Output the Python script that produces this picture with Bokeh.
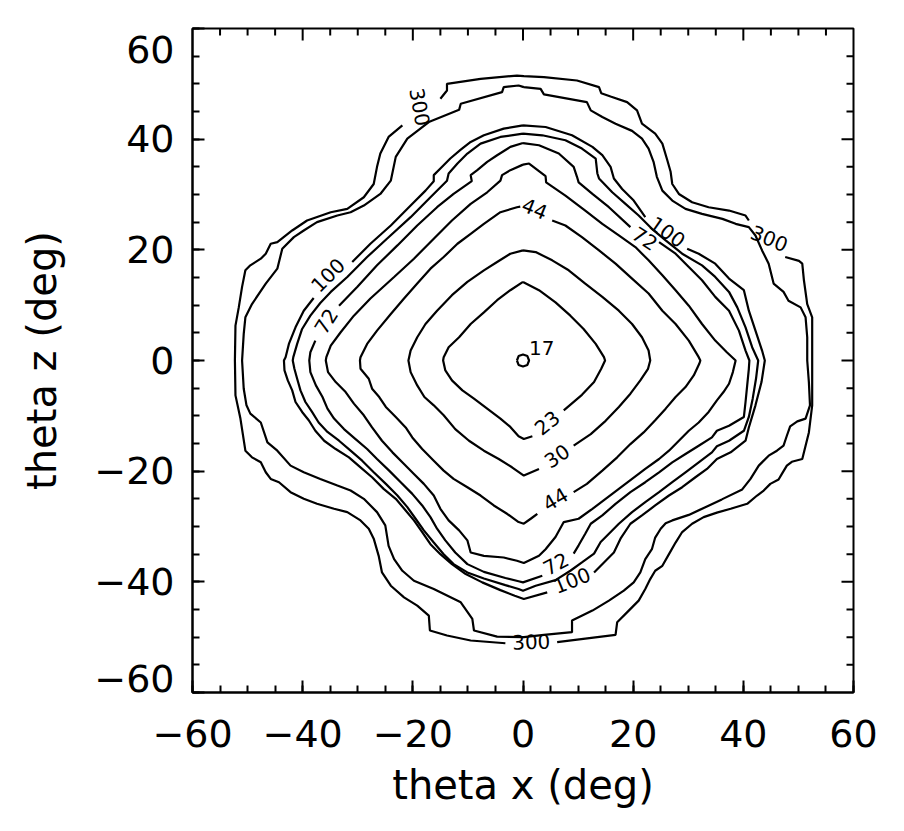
import numpy as np
from bokeh.plotting import figure
from bokeh.models import Range1d, FixedTicker, ColumnDataSource
from bokeh.core.properties import value
from bokeh.embed import file_html
from bokeh.resources import INLINE

# Contour levels (unlabelled levels are estimates)
levels = [17, 23, 30, 44, 58, 72, 86, 100, 200, 300]

# Contour paths: (theta_x, theta_z) in deg; None = gap for a label
c17 = [(-1.1, 0), (-0.8, 0.8), (0, 1.1), (0.8, 0.8), (1.1, 0), (0.8, -0.8), (0, -1.1), (-0.8, -0.8), (-1.1, 0)]

c23 = [(0, 14.2), (-2.3, 12.7), (-4.7, 10.9), (-7.1, 8.7), (-9.5, 6.6), (-11.6, 4.2), (-13.5, 2.4), (-14.4, 0.6), (-14.5, 0),
       (-14.1, -1.8), (-12.9, -3.6), (-11.0, -5.4), (-8.9, -6.9), (-6.5, -8.7), (-4.1, -10.5), (-2.3, -12.0), (-0.8, -13.7),
       (0.15, -14.2), (1.7, -13.7), None,
       (7.4, -9.0), (10.7, -6.2), (12.9, -3.9), (14.2, -1.5), (14.9, 0),
       (14.7, 0.6), (13.2, 3.0), (11.0, 5.7), (8.6, 8.1), (5.9, 10.5), (2.9, 12.7), (0, 14.2)]

c30 = [(0, 19.9), (-2.3, 19.3), (-4.7, 17.8), (-7.1, 16.3), (-10.1, 14.2), (-12.9, 11.8), (-15.6, 9.0), (-17.7, 6.6),
       (-19.2, 4.2), (-20.4, 1.8), (-20.8, 0),
       (-20.4, -2.1), (-19.2, -4.5), (-17.9, -6.6), (-16.2, -8.1), (-14.4, -9.9), (-12.3, -12.4), (-9.8, -14.5),
       (-7.1, -16.3), (-4.4, -17.8), (-2.0, -19.3), (0.15, -20.8), (2.9, -19.6), None,
       (9.2, -15.4), (12.3, -13.3), (15.0, -10.9), (17.4, -8.4), (19.5, -6.0), (21.3, -3.6), (22.7, -1.5), (23.1, 0),
       (22.8, 1.8), (21.6, 4.2), (19.8, 6.6), (17.4, 9.0), (14.4, 11.5), (11.3, 13.9), (8.3, 16.3), (5.3, 18.1),
       (2.3, 19.6), (0, 19.9)]

c44 = [(-0.5, 27.8), (-1.1, 27.7), (-4.1, 26.8), (-7.1, 24.7), (-9.5, 22.9), (-11.9, 21.1), (-14.4, 18.7), (-16.8, 16.6),
       (-19.2, 13.9), (-21.6, 11.2), (-24.0, 8.4), (-26.5, 5.4), (-28.3, 3.0), (-29.5, 0.6), (-29.6, 0),
       (-29.5, -1.5), (-28.0, -3.3), (-27.4, -5.1), (-26.1, -6.6), (-24.9, -8.4), (-23.1, -10.2), (-21.3, -12.1),
       (-20.1, -13.9), (-18.3, -16.0), (-16.2, -18.1), (-14.4, -19.9), (-12.6, -21.4), (-10.1, -22.9), (-7.7, -24.4),
       (-5.3, -26.2), (-2.9, -27.7), (-0.8, -29.2), (0.15, -29.5), (1.4, -28.6), (2.6, -27.7), None,
       (9.2, -23.8), (11.6, -22.3), (14.4, -19.9), (17.1, -17.5), (19.5, -15.1), (21.9, -13.0), (24.0, -10.8),
       (25.9, -8.7), (27.7, -6.6), (29.5, -4.8), (31.0, -2.7), (32.0, -0.6), (32.2, 0),
       (31.9, 0.6), (30.1, 3.6), (27.7, 6.6), (25.3, 9.0), (22.8, 12.1), (19.8, 14.8), (16.8, 17.5), (13.8, 19.9),
       (10.7, 22.3), (7.7, 24.4), (5.3, 25.3)]

c58 = [(0, 35.4), (-2.3, 34.4), (-3.8, 33.5), (-4.1, 32.5), (-6.5, 30.4), (-9.5, 28.3), (-12.9, 25.3), (-16.2, 22.0),
       (-19.8, 18.4), (-23.4, 15.1), (-27.7, 11.2), (-30.7, 8.1), (-33.1, 5.1), (-34.9, 2.7), (-35.7, 0.6), (-35.8, 0),
       (-35.4, -2.1), (-34.0, -3.9), (-32.2, -5.7), (-30.7, -7.8), (-28.9, -9.9), (-27.4, -12.1), (-25.6, -14.5),
       (-23.7, -16.6), (-21.6, -18.7), (-19.8, -20.5), (-18.0, -22.3), (-16.2, -24.4), (-15.0, -26.8), (-13.5, -28.9),
       (-11.6, -30.7), (-10.1, -32.5), (-9.5, -34.7), (-7.1, -35.3), (-3.5, -35.6), (-1.1, -36.2), (0.15, -36.6),
       (2.9, -35.3), (4.1, -34.1), (5.9, -31.9), (7.4, -29.2), (10.1, -28.6), (12.6, -26.8), (15.0, -25.0),
       (17.4, -23.2), (19.8, -21.4), (22.2, -19.6), (24.7, -17.8), (26.5, -16.3), (28.3, -14.5), (30.1, -12.7),
       (31.9, -11.2), (33.7, -9.3), (35.2, -7.2), (36.4, -5.7), (37.4, -4.2), (38.1, -2.1), (38.6, 0),
       (37.0, 1.5), (34.9, 3.6), (32.5, 6.6), (30.1, 9.9), (27.7, 12.7), (25.3, 15.4), (22.8, 18.1), (20.4, 20.5),
       (17.4, 22.6), (14.4, 24.7), (11.3, 27.1), (7.7, 29.8), (4.2, 32.2), (4.1, 33.3), (1.1, 35.6), (0, 35.4)]

c72 = [(0, 39.3), (-2.3, 38.6), (-4.7, 37.1), (-6.5, 35.9), (-8.3, 34.4), (-9.5, 33.5), (-9.3, 32.4), (-12.6, 30.1),
       (-15.6, 27.7), (-19.2, 24.4), (-22.8, 20.8), (-26.5, 17.2), (-30.1, 13.3), (-33.4, 9.9), None,
       (-37.7, 3.6), (-38.6, 1.5), (-38.8, 0),
       (-38.6, -2.1), (-37.6, -4.5), (-36.4, -6.6), (-35.5, -8.7), (-34.3, -10.5), (-32.5, -12.4), (-30.4, -14.2),
       (-28.3, -16.0), (-26.5, -17.8), (-24.3, -19.9), (-22.2, -22.0), (-20.1, -24.1), (-18.3, -26.2), (-16.8, -28.3),
       (-15.6, -30.4), (-14.1, -32.5), (-12.3, -34.7), (-10.1, -36.8), (-7.1, -38.2), (-3.2, -39.3), (-0.8, -39.9),
       (0, -40.1), (3.5, -38.9), None,
       (9.2, -34.9), (10.1, -33.4), (11.3, -31.3), (12.3, -29.5), (14.4, -28.0), (16.8, -25.9), (19.5, -23.8),
       (22.2, -22.0), (24.7, -20.2), (27.1, -18.4), (29.5, -16.9), (31.9, -15.4), (34.3, -13.9), (35.2, -12.7),
       (37.4, -11.8), (40.1, -10.2), (40.4, -7.5), (40.7, -4.5), (41.0, -1.5), (41.1, 0),
       (40.4, 1.8), (39.2, 5.4), (37.4, 9.0), (34.9, 11.5), (32.5, 14.5), (30.1, 16.9), (27.7, 19.3), (24.7, 21.4), None,
       (19.5, 24.1), (15.6, 27.7), (12.6, 30.1), (10.1, 32.2), (9.8, 33.2), (9.2, 35.0), (6.5, 37.4), (2.9, 38.9),
       (0, 39.3)]

c86 = [(0, 41.0), (-4.1, 40.4), (-7.7, 39.2), (-10.1, 37.4), (-11.9, 35.6), (-13.5, 33.8), (-13.8, 32.5), (-16.8, 29.5),
       (-20.4, 25.9), (-24.7, 22.0), (-28.3, 18.7), (-31.9, 15.1), (-34.9, 12.4), (-36.8, 10.4), (-38.6, 8.1),
       (-40.1, 5.7), (-41.0, 3.0), (-41.7, 0.6), (-41.8, 0),
       (-41.5, -1.5), (-41.0, -3.3), (-40.4, -5.4), (-39.5, -7.5), (-38.3, -9.3), (-37.1, -11.2), (-35.5, -12.9),
       (-33.4, -14.5), (-31.3, -16.3), (-29.2, -18.1), (-27.1, -20.2), (-24.9, -22.3), (-22.8, -24.4), (-21.0, -26.5),
       (-19.5, -28.6), (-18.0, -30.7), (-16.2, -32.9), (-14.4, -35.0), (-12.6, -36.8), (-10.1, -38.3), (-7.1, -39.4),
       (-3.2, -40.6), (-0.8, -41.3), (0, -41.6),
       (2.3, -40.7), (5.9, -39.7), (8.6, -38.0), (10.7, -36.5), (12.9, -34.9), (14.1, -32.8), (15.6, -31.3),
       (17.4, -29.5), (19.8, -27.4), (22.2, -25.6), (24.7, -23.8), (27.1, -22.0), (29.5, -20.2), (31.9, -18.4),
       (34.3, -16.6), (35.2, -15.5), (37.4, -14.5), (40.1, -12.7), (41.0, -10.2), (41.7, -6.9), (42.3, -3.3), (42.7, 0),
       (41.6, 2.4), (40.4, 6.0), (38.9, 9.6), (37.4, 12.4), (34.9, 15.1), (32.5, 17.2), (28.9, 19.3), (25.9, 21.7),
       (23.4, 23.8), (21.0, 26.2), (18.6, 28.3), (16.2, 30.4), (13.8, 32.9), (13.5, 33.8), (13.2, 36.5), (10.7, 38.3),
       (7.7, 39.8), (3.5, 40.7), (0, 41.0)]

c100 = [(0, 42.5), (-3.5, 41.9), (-7.1, 40.7), (-9.5, 39.5), (-11.3, 38.1), (-13.2, 36.5), (-15.0, 34.7), (-16.2, 33.5),
        (-16.2, 32.4), (-17.7, 30.7), (-20.4, 28.0), (-24.0, 24.4), (-27.7, 21.1), (-31.0, 17.8), None,
        (-38.0, 11.3), (-39.8, 9.0), (-41.3, 6.0), (-42.5, 3.0), (-43.1, 0.6), (-43.4, 0),
        (-43.3, -1.8), (-42.7, -3.6), (-41.9, -5.4), (-41.3, -7.5), (-40.1, -9.3), (-38.9, -10.8), (-37.7, -12.7),
        (-36.1, -14.5), (-34.0, -16.0), (-31.6, -17.5), (-29.5, -19.3), (-27.4, -21.1), (-25.3, -23.2), (-23.1, -25.0),
        (-21.3, -27.1), (-19.8, -28.9), (-18.3, -31.0), (-16.8, -33.2), (-15.0, -35.0), (-12.9, -36.8), (-10.4, -38.6),
        (-7.4, -40.1), (-4.1, -41.5), (-1.5, -42.5), (0.15, -43.1), (4.4, -41.9), None,
        (12.9, -38.3), (14.7, -36.5), (16.5, -34.7), (17.7, -32.2), (19.5, -29.5), (21.6, -28.0), (24.0, -26.2),
        (26.5, -24.4), (28.9, -22.9), (31.3, -21.1), (33.4, -19.6), (35.2, -17.8), (37.7, -16.6), (40.4, -14.5),
        (41.0, -12.1), (42.2, -8.1), (43.3, -3.9), (43.9, 0),
        (43.4, 1.8), (42.2, 5.4), (41.0, 9.0), (40.1, 12.7), (37.4, 14.8), (34.9, 17.5), (31.9, 19.3), (29.8, 20.2), None,
        (22.2, 25.9), (20.1, 28.9), (18.0, 31.0), (16.5, 32.9), (15.9, 35.0), (14.4, 37.1), (12.6, 38.6), (8.9, 40.7),
        (4.1, 42.2), (0, 42.5)]

c200 = [(0.15, 49.4), (-0.8, 49.7), (-3.5, 49.4), (-3.8, 48.5), (-11.3, 46.4), (-11.6, 45.3), (-17.1, 43.1), (-21.0, 40.1),
        (-23.1, 36.8), (-24.0, 32.5), (-25.9, 30.1), (-28.9, 28.0), (-31.3, 26.8), (-33.7, 26.2), (-37.4, 25.0),
        (-39.8, 23.5), (-41.6, 22.3), (-43.7, 20.2), (-44.6, 16.6), (-46.7, 13.9), (-49.2, 10.2), (-50.4, 7.8),
        (-50.7, 4.8), (-51.0, 0),
        (-50.7, -5.1), (-50.2, -8.1), (-49.5, -9.6), (-47.6, -11.2), (-46.4, -14.8), (-44.6, -16.3), (-42.2, -19.0),
        (-39.8, -20.2), (-36.8, -21.4), (-33.7, -22.6), (-31.3, -23.5), (-28.9, -25.0), (-26.5, -27.4), (-25.0, -29.8),
        (-24.4, -33.5), (-23.4, -35.9), (-21.9, -38.0), (-19.8, -39.8), (-16.2, -41.3), (-11.3, -43.7), (-9.2, -46.7),
        (-8.9, -48.8), (-4.7, -49.9), (0.15, -50.0),
        (3.8, -49.6), (8.9, -49.1), (8.9, -47.0), (12.6, -45.2), (15.6, -43.4), (18.3, -41.6), (20.1, -40.1),
        (21.3, -38.3), (22.2, -35.9), (23.4, -34.1), (24.0, -32.0), (25.0, -30.4), (25.9, -29.4), (27.1, -28.9),
        (30.1, -27.9), (33.1, -26.5), (36.1, -25.1), (39.8, -23.3), (41.3, -21.4), (42.8, -19.0), (44.6, -17.2),
        (46.1, -16.3), (47.3, -15.4), (47.9, -13.6), (48.5, -11.9), (49.8, -11.0), (51.3, -10.5), (52.1, -8.1),
        (51.9, -3.9), (51.6, 0),
        (51.6, 4.2), (51.3, 7.8), (50.4, 9.6), (48.2, 10.8), (47.3, 12.4), (45.5, 13.9), (44.6, 17.5), (43.4, 19.9),
        (42.2, 22.6), (41.0, 24.1), (38.6, 24.7), (36.2, 25.6), (32.5, 26.5), (29.5, 27.4), (27.1, 28.9), (25.3, 30.7),
        (24.3, 33.2), (23.7, 35.9), (22.8, 38.3), (21.6, 40.1), (19.8, 41.5), (16.8, 42.8), (14.4, 44.0), (12.3, 45.2),
        (11.6, 46.7), (3.8, 48.1), (3.2, 49.1), (0.15, 49.4)]

c300 = [(0.15, 51.4), (-1.1, 51.5), (-7.7, 50.9), (-13.8, 50.0), (-13.8, 48.8), (-15.0, 47.3), None,
        (-21.9, 42.5), (-24.4, 40.4), (-25.9, 37.4), (-26.5, 35.0), (-27.1, 31.9), (-28.9, 29.5), (-31.9, 27.4),
        (-34.9, 26.8), (-39.2, 25.3), (-41.9, 23.5), (-44.6, 21.4), (-45.8, 21.1), (-46.7, 19.3), (-47.6, 18.4),
        (-49.5, 17.2), (-50.4, 16.3), (-51.0, 13.3), (-51.6, 9.6), (-52.2, 6.3), (-52.3, 0),
        (-52.2, -6.3), (-51.3, -10.5), (-50.4, -16.3), (-49.2, -17.5), (-47.6, -18.4), (-46.7, -20.2), (-45.8, -21.4),
        (-44.3, -22.0), (-42.2, -23.8), (-39.8, -25.0), (-37.4, -25.9), (-34.3, -26.8), (-31.9, -27.4), (-29.5, -28.9),
        (-28.0, -30.4), (-27.1, -32.2), (-26.2, -35.3), (-25.6, -38.3), (-24.0, -40.7), (-21.6, -42.8), (-19.2, -44.3),
        (-17.1, -46.1), (-16.9, -48.8), (-13.8, -49.7), (-9.5, -50.6), (-3.2, -51.1), None,
        (6.2, -50.9), (13.5, -50.0), (16.8, -49.6), (17.1, -47.3), (19.2, -45.2), (21.0, -43.4), (22.2, -41.3),
        (23.1, -39.5), (24.0, -38.0), (25.3, -37.1), (26.5, -35.0), (27.7, -32.9), (28.9, -31.0), (30.7, -29.5),
        (32.8, -28.3), (35.2, -27.5), (37.7, -26.8), (40.7, -25.9), (42.5, -24.4), (43.7, -23.5), (44.9, -22.3),
        (46.4, -21.5), (47.0, -20.5), (47.9, -19.0), (48.8, -18.3), (50.7, -17.8), (51.9, -13.0), (52.5, -8.1), (52.5, 0),
        (52.5, 7.8), (51.6, 10.2), (51.0, 14.5), (50.7, 17.5), (50.1, 18.0), (47.6, 18.7), None,
        (41.0, 25.3), (40.4, 26.2), (37.4, 27.1), (33.7, 27.7), (30.7, 28.6), (28.3, 30.1), (27.1, 31.9), (26.8, 34.1),
        (26.2, 36.2), (25.3, 39.2), (24.0, 41.0), (21.6, 42.8), (20.7, 45.2), (18.9, 46.7), (15.9, 47.7), (14.2, 48.3),
        (13.8, 49.4), (9.8, 50.6), (3.8, 51.2), (0.15, 51.4)]

contours = [c17, c23, c30, c44, c58, c72, c86, c100, c200, c300]

# Contour labels
lab_text = ["17", "23", "30", "44", "72", "100", "300", "44", "72", "100", "300", "300", "100", "72"]
lab_x = [3.4, 4.4, 6.2, 5.9, 6.0, 8.9, 1.5, 2.1, 22.1, 26.2, 44.7, -18.8, -35.4, -35.7]
lab_y = [2.3, -11.3, -17.3, -25.1, -36.8, -39.8, -50.9, 27.4, 22.0, 23.2, 22.0, 45.8, 15.4, 7.1]
lab_angle = [0, 39, 34, 31, 28, 22, 2, -22, -33, -35, -22, -80, 45, 58]

axis_min, axis_max = -60, 60
x_ticks = [-60, -40, -20, 0, 20, 40, 60]
y_ticks = [-60, -40, -20, 0, 20, 40, 60]
minor_ticks = list(range(-60, 61, 5))


def to_xy(pts):
    xs, ys = [], []
    for p_ in pts:
        if p_ is None:
            xs.append(np.nan)
            ys.append(np.nan)
        else:
            xs.append(p_[0])
            ys.append(p_[1])
    return np.array(xs, dtype=float), np.array(ys, dtype=float)


def tick_text(t):
    return ("\u2212" + str(abs(t))) if t < 0 else str(t)


FONT = "DejaVu Sans"
MAJ, MIN = 12, 7
p = figure(width=900, height=828, output_backend="svg", toolbar_location=None,
           x_range=Range1d(axis_min, axis_max), y_range=Range1d(axis_min, axis_max),
           min_border_left=192, min_border_right=47, min_border_top=28, min_border_bottom=136)
p.grid.visible = False
p.outline_line_color = "black"
p.outline_line_width = 2
p.background_fill_color = "white"

for c in contours:
    xs, ys = to_xy(c)
    p.line(xs, ys, line_color="black", line_width=2.2)

src = ColumnDataSource(dict(x=lab_x, y=lab_y, text=lab_text, angle=lab_angle))
p.text(x="x", y="y", text="text", angle="angle", angle_units="deg", source=src,
       text_align="center", text_baseline="middle", text_color="black",
       text_font=value(FONT), text_font_size=value("20px"))

# tick marks on the top and right frame edges (inward), at the same tick values
top_major = [t for t in x_ticks if axis_min < t < axis_max]
top_minor = [t for t in minor_ticks if axis_min < t < axis_max and t not in x_ticks]
right_major = [t for t in y_ticks if axis_min < t < axis_max]
right_minor = [t for t in minor_ticks if axis_min < t < axis_max and t not in y_ticks]
p.ray(x=top_major, y=[axis_max] * len(top_major), length=MAJ, length_units="screen",
      angle=-90, angle_units="deg", line_color="black", line_width=2)
p.ray(x=top_minor, y=[axis_max] * len(top_minor), length=MIN, length_units="screen",
      angle=-90, angle_units="deg", line_color="black", line_width=2)
p.ray(x=[axis_max] * len(right_major), y=right_major, length=MAJ, length_units="screen",
      angle=180, angle_units="deg", line_color="black", line_width=2)
p.ray(x=[axis_max] * len(right_minor), y=right_minor, length=MIN, length_units="screen",
      angle=180, angle_units="deg", line_color="black", line_width=2)

x_labels = {t: tick_text(t) for t in x_ticks}
# end labels of the vertical axis sit inside the axis extent, as in the reference
y_labels = {t: tick_text(t) for t in y_ticks}
y_labels[axis_max] = "\n" + y_labels[axis_max]
y_labels[axis_min] = y_labels[axis_min] + "\n"


def style_axis(ax, ticks, labels):
    ax.ticker = FixedTicker(ticks=ticks, minor_ticks=minor_ticks)
    ax.major_tick_in = MAJ
    ax.major_tick_out = 0
    ax.minor_tick_in = MIN
    ax.minor_tick_out = 0
    ax.major_tick_line_width = 2
    ax.minor_tick_line_width = 2
    ax.axis_line_width = 2
    ax.axis_line_color = "black"
    ax.major_tick_line_color = "black"
    ax.minor_tick_line_color = "black"
    ax.major_label_text_font = FONT
    ax.major_label_text_font_size = "38px"
    ax.major_label_text_color = "black"
    ax.major_label_overrides = labels
    ax.axis_label_text_font = FONT
    ax.axis_label_text_font_size = "40px"
    ax.axis_label_text_font_style = "normal"
    ax.axis_label_text_color = "black"


xa = p.xaxis[0]
style_axis(xa, x_ticks, x_labels)
xa.axis_label = "theta x (deg)"
xa.major_label_standoff = 27
xa.axis_label_standoff = 12

ya = p.yaxis[0]
style_axis(ya, y_ticks, y_labels)
ya.major_label_text_line_height = 0.62
ya.axis_label = "theta z (deg)"
ya.major_label_standoff = 18
ya.axis_label_standoff = 26

open("out.html", "w").write(file_html(p, INLINE))
